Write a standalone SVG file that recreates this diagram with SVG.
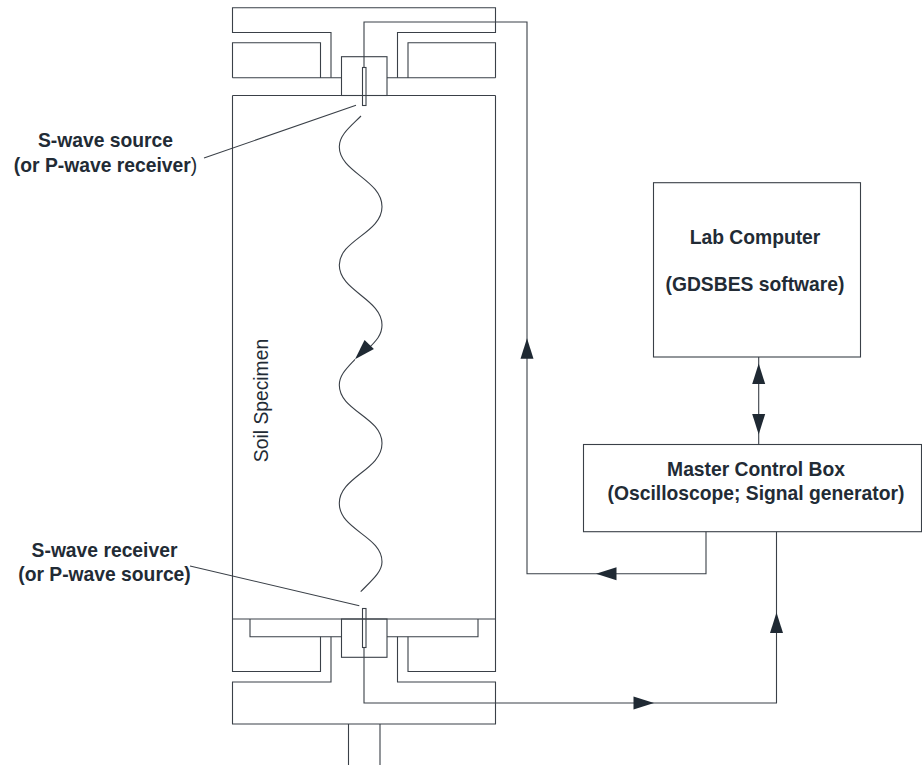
<svg xmlns="http://www.w3.org/2000/svg" width="922" height="765" viewBox="0 0 922 765">
<style>
.l{fill:none;stroke:#3a4048;stroke-width:1.1}
.t{font-family:"Liberation Sans",Arial,sans-serif;font-size:19.300px;font-weight:bold;fill:#222b35;text-anchor:middle}
.a{fill:#1f2933;stroke:none}
</style>
<defs>
<path id="up" class="a" d="M0,0L6.5,20.5H-6.5Z"/>
</defs>
<rect width="922" height="765" fill="#fff"/>
<g id="cell">
<path class="l" d="M232.500 95.500V671.500H320.500V636.700M495.500 95.500V671.500H408V636.700"/>
<path class="l" d="M232.500 95.500H341.500M387 95.500H495.500M232.500 619H495.500"/>
<path class="l" d="M331 77.700V32.500H232.500V7.700H495.500V32.500H397.500V77.700"/>
<path class="l" d="M232.500 77.700V42.700H320.500V77.700M408 77.700V42.700H495.500V77.700M232.500 77.700H341.500M387 77.700H495.500"/>
<path class="l" d="M250 619V636.700H341.500M478 619V636.700H387"/>
<path class="l" d="M331 636.700V682H232.500V724H495.500V682H397.500V636.700"/>
<path class="l" d="M348.500 724V765M380 724V765"/>
</g>
<g id="top-cap"><rect class="l" x="341.500" y="56.700" width="45.500" height="38.800"/></g>
<g id="bottom-cap"><rect class="l" x="341.500" y="619" width="45.500" height="38.300"/></g>
<g id="source"><rect class="l" x="362.500" y="67.500" width="3.500" height="38" fill="#fff"/></g>
<g id="receiver"><rect class="l" x="362.500" y="608.500" width="3.500" height="39"/></g>
<g id="specimen"><text transform="translate(267.700 400.500) rotate(-90)" font-family="&quot;Liberation Sans&quot;,Arial,sans-serif" font-size="19.300" fill="#222b35" text-anchor="middle">Soil Specimen</text></g>
<g id="computer">
<rect class="l" x="653.500" y="182.700" width="207" height="174.300"/>
<text class="t" x="755" y="244">Lab Computer</text>
<text class="t" x="755" y="290.500">(GDSBES software)</text>
</g>
<g id="control">
<rect class="l" x="583.500" y="444.500" width="338" height="87.200"/>
<text class="t" x="756" y="475.700">Master Control Box</text>
<text class="t" x="756" y="500">(Oscilloscope; Signal generator)</text>
</g>
<g id="source-label">
<text class="t" x="105.500" y="147">S-wave source</text>
<text class="t" x="105.500" y="171.700">(or P-wave receiver<tspan font-weight="normal">)</tspan></text>
</g>
<g id="receiver-label">
<text class="t" x="104.500" y="556.700">S-wave receiver</text>
<text class="t" x="104.500" y="580.700">(or P-wave source)</text>
</g>
<g id="connectors">
<path class="l" d="M204 158L356 105.300M190 566L359.300 605.700"/>
<path class="l" d="M364 67.500V22H527V573.700H706V531.700"/>
<path class="l" d="M364 647.500V703H776.500V531.700"/>
<path class="l" d="M758.700 357V444.500"/>
<path class="l" d="M361 116C350 127 339.300 135 339.300 146.700C339.300 172 382 180 382 206.700C382 233 339.300 240 339.300 265C339.300 291 382 299 382 325C382 335 376 341 368 349"/>
<path class="l" d="M355 359.300C347 368 339.300 375 339.300 385C339.300 411 382 417 382 443.300C382 470 339.300 477 339.300 503.300C339.300 530 382 536 382 561.700C382 572 372 580 360.700 591.700"/>
<use href="#up" transform="translate(527 338.300)"/>
<use href="#up" transform="translate(776.500 612.500)"/>
<use href="#up" transform="translate(758.700 363.500)"/>
<use href="#up" transform="translate(758.700 434.500) rotate(180)"/>
<use href="#up" transform="translate(596 573.700) rotate(-90)"/>
<use href="#up" transform="translate(654 703) rotate(90)"/>
<use href="#up" transform="translate(355 359.300) rotate(224)"/>
</g>
</svg>
